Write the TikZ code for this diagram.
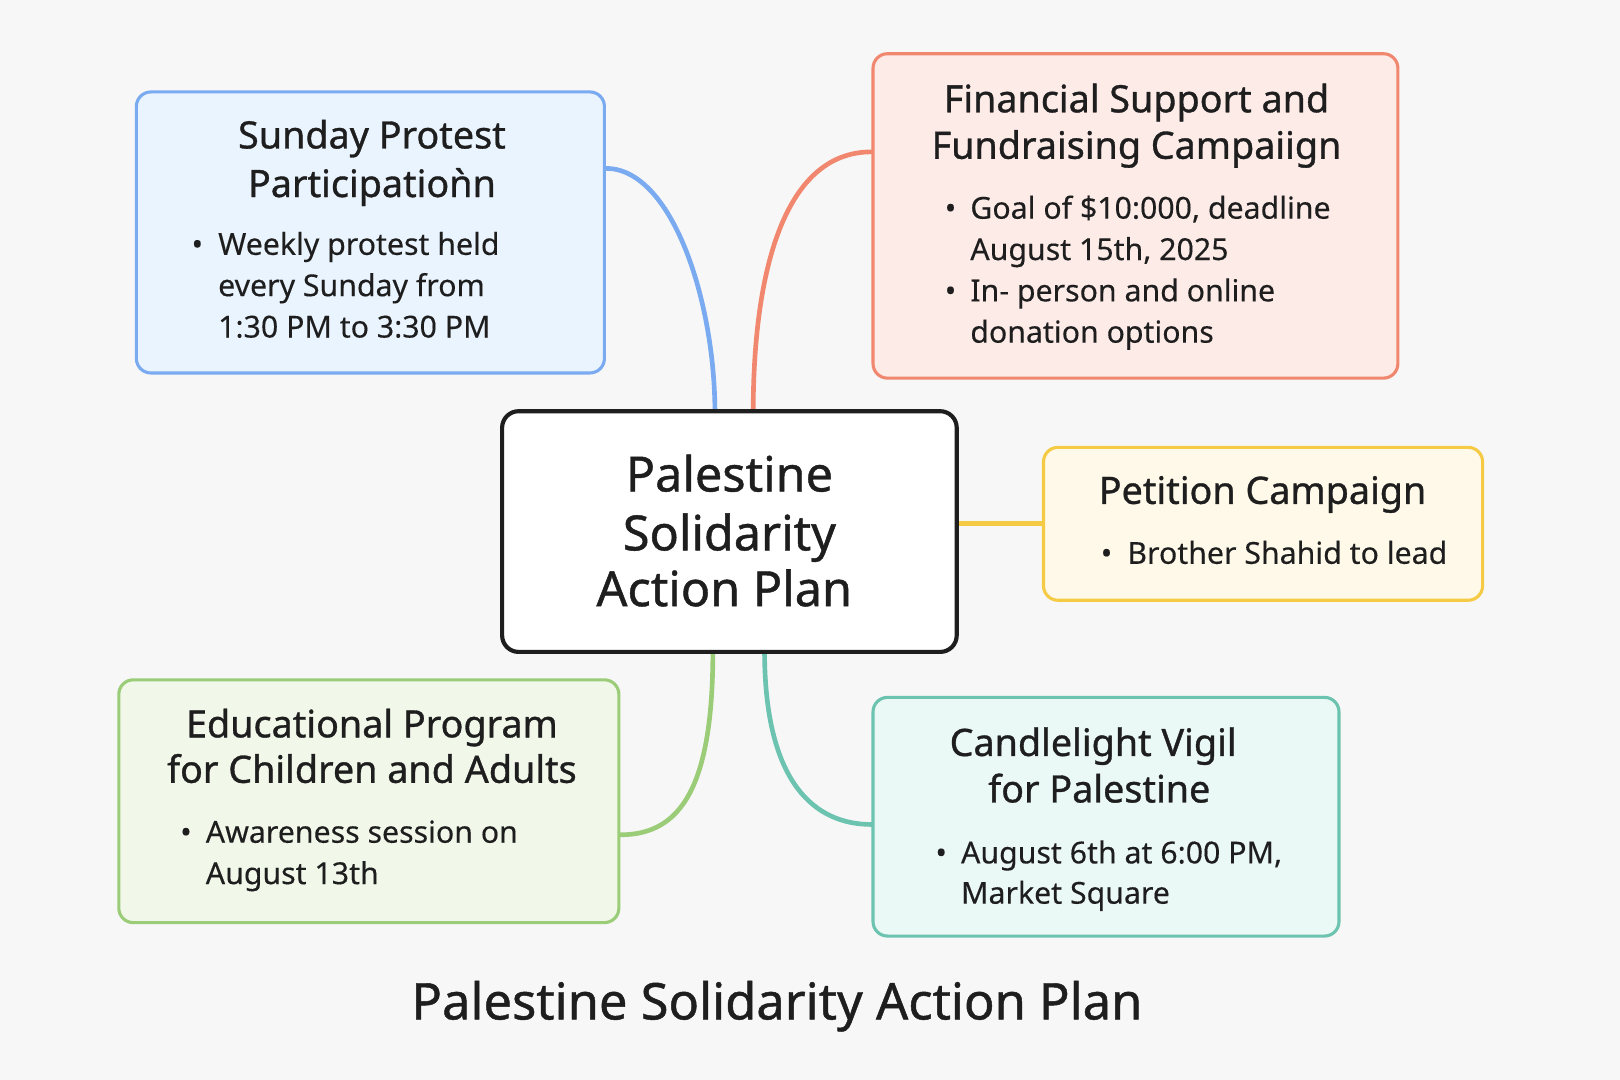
\documentclass[tikz,border=0pt]{standalone}
\usepackage{fontspec}
\setmainfont{Noto Sans}
\newfontfamily\medfont{Noto Sans}[FakeBold=0.9]
\newfontfamily\bodyfont{Noto Sans}[FakeBold=0.25]
\usetikzlibrary{calc}
\definecolor{bg}{HTML}{F7F7F7}
\definecolor{ink}{HTML}{1E1E1E}
\definecolor{blueL}{HTML}{7AAAF0}\definecolor{blueF}{HTML}{EAF4FE}
\definecolor{redL}{HTML}{F0876E}\definecolor{redF}{HTML}{FDEBE8}
\definecolor{yelL}{HTML}{F5CB45}\definecolor{yelF}{HTML}{FEF9E8}
\definecolor{grnL}{HTML}{9BCC78}\definecolor{grnF}{HTML}{F1F8E9}
\definecolor{tealL}{HTML}{6CC3AF}\definecolor{tealF}{HTML}{EAF8F6}
\tikzset{
  box/.style={draw, line width=3pt, rounded corners=14pt, inner sep=0pt},
  hub/.style={draw=ink, fill=white, line width=4pt, rounded corners=16pt, inner sep=0pt},
  conn/.style={line width=4.5pt, line cap=round},
  ttl/.style={text=ink, font=\medfont\fontsize{36.5}{42}\selectfont, anchor=mid, inner sep=0pt, yshift=-10pt},
  bodytxt/.style={text=ink, font=\bodyfont\fontsize{29.3}{34}\selectfont, anchor=mid west, inner sep=0pt, yshift=-8pt},
  dot/.style={text=ink, font=\bodyfont\fontsize{29.3}{34}\selectfont, anchor=mid, inner sep=0pt, yshift=-8pt},
  hubtxt/.style={text=ink, font=\medfont\fontsize{47}{56}\selectfont, anchor=mid, inner sep=0pt, yshift=-13pt},
  captxt/.style={text=ink, font=\medfont\fontsize{49}{56}\selectfont, anchor=mid, inner sep=0pt, yshift=-14pt},
}
\begin{document}
\begin{tikzpicture}[x=1pt,y=-1pt]
\fill[bg] (0,0) rectangle (1568,1045.33);
\useasboundingbox (0,0) rectangle (1568,1045.33);
% boxes
\node[box, draw=blueL, fill=blueF, minimum width=453pt, minimum height=272pt] (blue) at (358.5,225) {};
\node[box, draw=redL, fill=redF, minimum width=508pt, minimum height=314pt] (red) at (1099,209) {};
\node[box, draw=yelL, fill=yelF, minimum width=425pt, minimum height=148pt] (yel) at (1222.5,507) {};
\node[box, draw=grnL, fill=grnF, minimum width=484pt, minimum height=235pt] (grn) at (357,775.5) {};
\node[box, draw=tealL, fill=tealF, minimum width=451pt, minimum height=231pt] (teal) at (1070.5,790.5) {};
% connectors (behind hub)
\draw[conn, blueL] ([yshift=62pt]blue.east) .. controls (650,163) and (692,290) .. (692,400);
\draw[conn, redL] (729,400) .. controls (729,260) and (760,147) .. ([yshift=62pt]red.west);
\draw[conn, grnL] (690,630) .. controls (690,760) and (660,808) .. ([yshift=-32.5pt]grn.east);
\draw[conn, tealL] (740,630) .. controls (740,760) and (790,798) .. ([yshift=-7.5pt]teal.west);
\node[hub, minimum width=440pt, minimum height=233pt] (hub) at (706,514.5) {};
\draw[conn, yelL, line cap=butt] (hub.east |- yel.west) -- (yel.west);
% hub text
\node[hubtxt] (h1) at (706,460) {Palestine};
\node[hubtxt] (h2) at (706,517) {Solidarity};
\node[hubtxt] (h3) at (701,571) {Action Plan};
% blue
\node[ttl] (b1) at (360,131) {Sunday Protest};
\node[ttl] (b2) at (360,178) {Participatioǹn};
\node[dot] (bd1) at (191,236) {•};
\node[bodytxt] (bt1) at (211,236) {Weekly protest held};
\node[bodytxt] (bt2) at (211,276) {every Sunday from};
\node[bodytxt] (bt3) at (211,316) {1:30 PM to 3:30 PM};
% red
\node[ttl] (r1) at (1100,96) {Financial Support and};
\node[ttl] (r2) at (1100,141) {Fundraising Campaiign};
\node[dot] (rd1) at (920,201) {•};
\node[bodytxt] (rt1) at (939,201) {Goal of \$10:000, deadline};
\node[bodytxt] (rt2) at (939,241) {August 15th, 2025};
\node[dot] (rd2) at (920,281) {•};
\node[bodytxt] (rt3) at (939,281) {In- person and online};
\node[bodytxt] (rt4) at (939,321) {donation options};
% yellow
\node[ttl] (y1) at (1222,475) {Petition Campaign};
\node[dot] (yd1) at (1071,535) {•};
\node[bodytxt] (yt1) at (1091,535) {Brother Shahid to lead};
% green
\node[ttl] (g1) at (360,701) {Educational Program};
\node[ttl] (g2) at (360,745) {for Children and Adults};
\node[dot] (gd1) at (180,805) {•};
\node[bodytxt] (gt1) at (199,805) {Awareness session on};
\node[bodytxt] (gt2) at (199,845) {August 13th};
% teal
\node[ttl] (t1) at (1058,719) {Candlelight Vigil};
\node[ttl] (t2) at (1064,764) {for Palestine};
\node[dot] (td1) at (911,825) {•};
\node[bodytxt] (tt1) at (930,825) {August 6th at 6:00 PM,};
\node[bodytxt] (tt2) at (930,864) {Market Square};
% caption
\node[captxt] (cap) at (752,970) {Palestine Solidarity Action Plan};
\end{tikzpicture}
\end{document}
